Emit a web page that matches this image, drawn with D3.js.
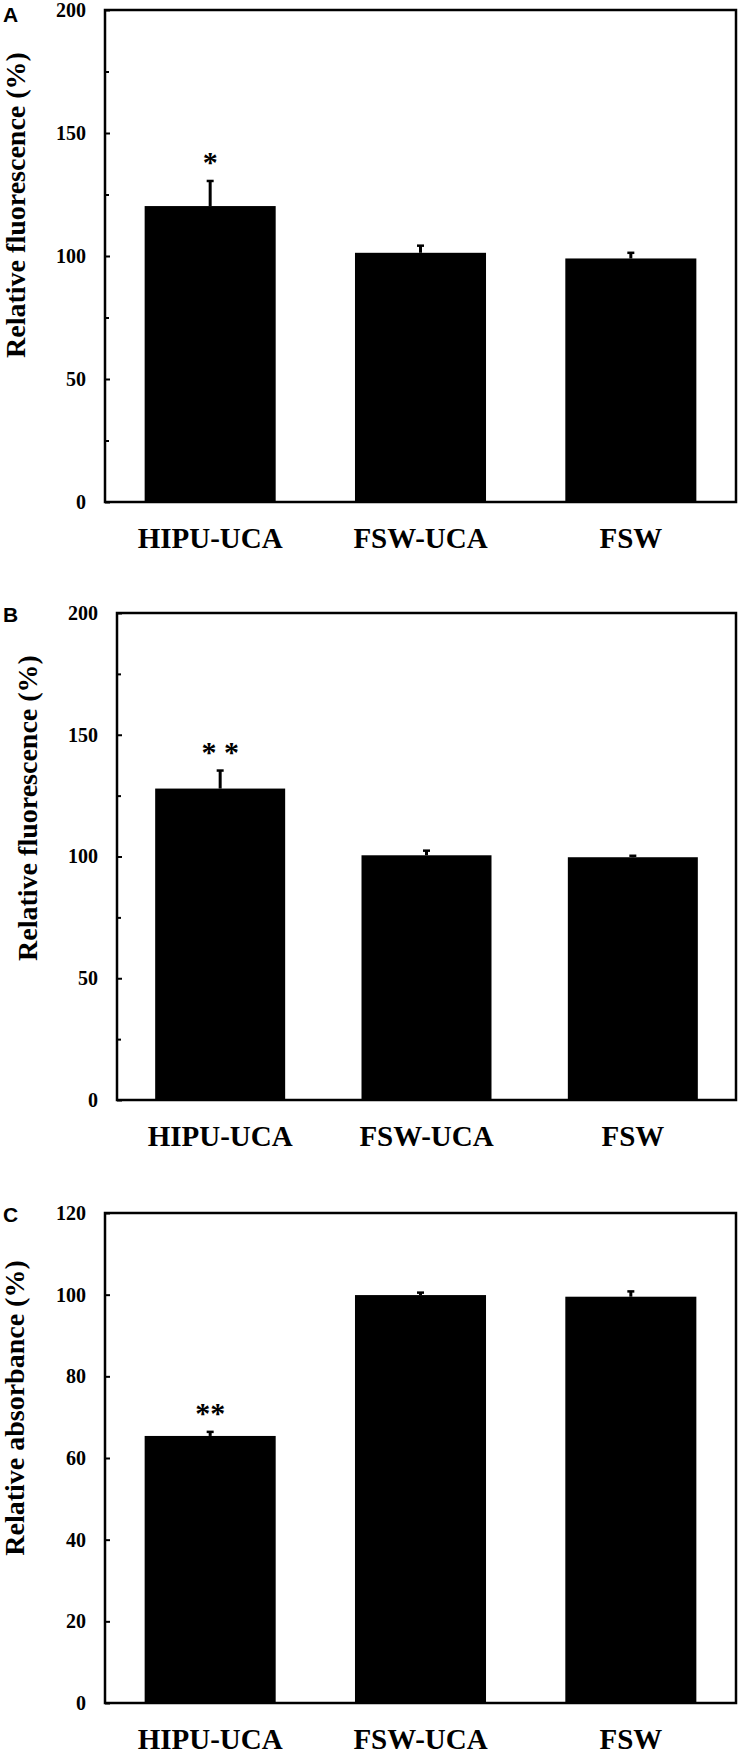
<!DOCTYPE html>
<html lang="en">
<head>
  <meta charset="UTF-8">
  <title>Relative fluorescence / absorbance</title>
  <script src="https://d3js.org/d3.v7.min.js"></script>
  <style>
    body { margin: 0; background: #fff; }
    svg { display: block; }
    .tick text, .xlab, .ytitle, .star {
      font-family: "Liberation Serif", "Times New Roman", serif;
      font-weight: bold;
      fill: #000;
    }
    .panel-letter {
      font-family: "Liberation Sans", Arial, sans-serif;
      font-weight: bold;
      font-size: 21px;
    }
  </style>
</head>
<body>
  <svg id="chart" width="739" height="1754"></svg>

  <script>
    // ----- data -----
    const categories = ["HIPU-UCA", "FSW-UCA", "FSW"];

    const fluorA = [120.3, 101.3, 99.0];
    const errA   = [10.2, 2.9, 2.3];
    const starsA = ["*", "", ""];

    const fluorB = [127.9, 100.5, 99.7];
    const errB   = [7.4, 1.9, 0.6];
    const starsB = ["* *", "", ""];

    const absorbC = [65.4, 99.9, 99.5];
    const errC    = [1.0, 0.6, 1.3];
    const starsC  = ["**", "", ""];

    const ticksFluor = [0, 50, 100, 150, 200];
    const minorFluor = [25, 75, 125, 175];
    const ticksAbs = [0, 20, 40, 60, 80, 100, 120];

    const svg = d3.select("#chart");

    // layout of the three panels
    const panels = [
      { letter: "A", values: fluorA, errs: errA, stars: starsA, yMax: 200, ticks: ticksFluor, minor: minorFluor,
        title: "Relative fluorescence (%)", left: 105, right: 736, top: 10, bottom: 502,
        letterBase: 22, titleX: 25, pad: 0.377 },
      { letter: "B", values: fluorB, errs: errB, stars: starsB, yMax: 200, ticks: ticksFluor, minor: minorFluor,
        title: "Relative fluorescence (%)", left: 117, right: 736, top: 613, bottom: 1100,
        letterBase: 622, titleX: 37, pad: 0.37 },
      { letter: "C", values: absorbC, errs: errC, stars: starsC, yMax: 120, ticks: ticksAbs, minor: [],
        title: "Relative absorbance (%)", left: 105, right: 736, top: 1213, bottom: 1703,
        letterBase: 1222, titleX: 24, pad: 0.377 }
    ];

    panels.forEach(p => {
      const x = d3.scaleBand()
        .domain(categories)
        .range([p.left, p.right])
        .paddingInner(p.pad)
        .paddingOuter(p.pad / 2);

      const y = d3.scaleLinear().domain([0, p.yMax]).range([p.bottom, p.top]);

      const g = svg.append("g");

      // bars
      g.selectAll(".bar")
        .data(p.values)
        .enter()
        .append("rect")
        .attr("class", "bar")
        .attr("x", (d, i) => x(categories[i]))
        .attr("width", x.bandwidth())
        .attr("y", d => y(d))
        .attr("height", d => y(0) - y(d))
        .attr("fill", "#000");

      // error bars (upper half only, tiny cap)
      const cx = i => x(categories[i]) + x.bandwidth() / 2;
      g.selectAll(".err")
        .data(p.values)
        .enter()
        .append("line")
        .attr("x1", (d, i) => cx(i))
        .attr("x2", (d, i) => cx(i))
        .attr("y1", d => y(d))
        .attr("y2", (d, i) => y(d + p.errs[i]))
        .attr("stroke", "#000")
        .attr("stroke-width", 3);

      g.selectAll(".cap")
        .data(p.values)
        .enter()
        .append("line")
        .attr("x1", (d, i) => cx(i) - 3.5)
        .attr("x2", (d, i) => cx(i) + 3.5)
        .attr("y1", (d, i) => y(d + p.errs[i]))
        .attr("y2", (d, i) => y(d + p.errs[i]))
        .attr("stroke", "#000")
        .attr("stroke-width", 2.5);

      // significance stars
      g.selectAll(".star")
        .data(p.values)
        .enter()
        .append("text")
        .attr("class", "star")
        .attr("x", (d, i) => cx(i))
        .attr("y", (d, i) => y(d + p.errs[i]) - 23 + 14)
        .attr("text-anchor", "middle")
        .style("font-size", "30px")
        .text((d, i) => p.stars[i]);

      // y axis, ticks pointing inward
      const yAxis = d3.axisLeft(y)
        .tickValues(p.ticks)
        .tickFormat(d3.format("d"))
        .tickSize(-5)
        .tickPadding(19);

      const ya = g.append("g")
        .attr("transform", `translate(${p.left},0)`)
        .call(yAxis);
      ya.select(".domain").remove();
      ya.selectAll(".tick line").attr("stroke", "#000").attr("stroke-width", 2);
      ya.selectAll(".tick text").style("font-size", "20px");

      if (p.minor.length) {
        const ym = g.append("g")
          .attr("transform", `translate(${p.left},0)`)
          .call(d3.axisLeft(y).tickValues(p.minor).tickFormat("").tickSize(-4));
        ym.select(".domain").remove();
        ym.selectAll(".tick line").attr("stroke", "#000").attr("stroke-width", 2);
      }

      // x axis labels
      const xa = g.append("g")
        .attr("transform", `translate(0,${p.bottom})`)
        .call(d3.axisBottom(x).tickSize(0));
      xa.select(".domain").remove();
      xa.selectAll(".tick text")
        .attr("y", 46)
        .attr("dy", null)
        .attr("class", "xlab")
        .style("font-size", "29px");

      // frame
      g.append("rect")
        .attr("x", p.left)
        .attr("y", p.top)
        .attr("width", p.right - p.left)
        .attr("height", p.bottom - p.top)
        .attr("fill", "none")
        .attr("stroke", "#000")
        .attr("stroke-width", 2.5);

      // y title
      g.append("text")
        .attr("class", "ytitle")
        .attr("transform", `translate(${p.titleX},${p.top + 195}) rotate(-90)`)
        .attr("text-anchor", "middle")
        .style("font-size", "28px")
        .text(p.title);

      // panel letter
      g.append("text")
        .attr("class", "panel-letter")
        .attr("x", 3)
        .attr("y", p.letterBase)
        .text(p.letter);
    });
  </script>
</body>
</html>
